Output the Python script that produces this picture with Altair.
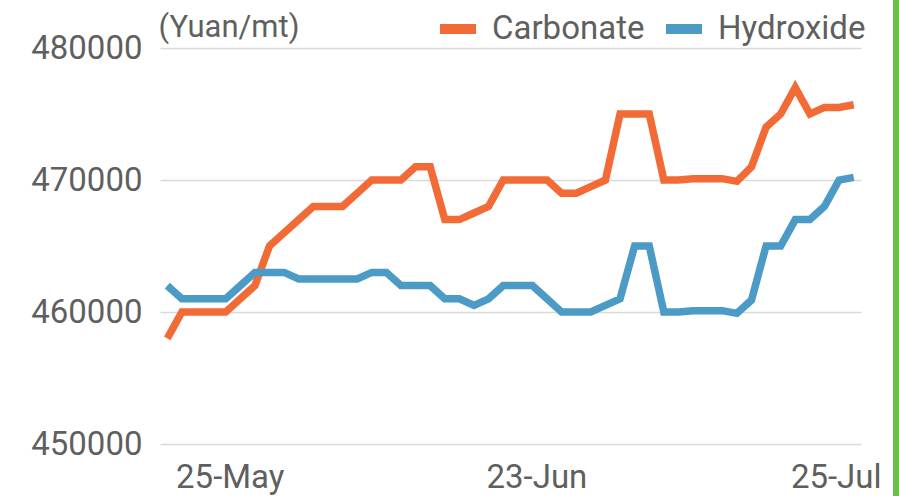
import altair as alt
import pandas as pd

dates = ["19-May", "20-May", "23-May", "24-May", "25-May", "26-May", "27-May", "30-May", "31-May",
         "1-Jun", "2-Jun", "3-Jun", "6-Jun", "7-Jun", "8-Jun", "9-Jun", "10-Jun", "13-Jun", "14-Jun",
         "15-Jun", "16-Jun", "17-Jun", "20-Jun", "21-Jun", "22-Jun", "23-Jun", "24-Jun", "27-Jun",
         "28-Jun", "29-Jun", "30-Jun", "1-Jul", "4-Jul", "5-Jul", "6-Jul", "7-Jul", "8-Jul", "11-Jul",
         "12-Jul", "13-Jul", "14-Jul", "15-Jul", "18-Jul", "19-Jul", "20-Jul", "21-Jul", "22-Jul", "25-Jul"]

carbonate = [458000, 460000, 460000, 460000, 460000, 461000, 462000, 465000, 466000,
             467000, 468000, 468000, 468000, 469000, 470000, 470000, 470000, 471000, 471000,
             467000, 467000, 467500, 468000, 470000, 470000, 470000, 470000, 469000,
             469000, 469500, 470000, 475000, 475000, 475000, 470000, 470000, 470100, 470100,
             470100, 469900, 471000, 474000, 475000, 477000, 475000, 475500, 475500, 475700]

hydroxide = [462000, 461000, 461000, 461000, 461000, 462000, 463000, 463000, 463000,
             462500, 462500, 462500, 462500, 462500, 463000, 463000, 462000, 462000, 462000,
             461000, 461000, 460500, 461000, 462000, 462000, 462000, 461000, 460000,
             460000, 460000, 460500, 461000, 465000, 465000, 460000, 460000, 460100, 460100,
             460100, 459900, 460900, 465000, 465000, 467000, 467000, 468000, 470000, 470200]

series_names = ["Carbonate", "Hydroxide"]
series_colors = ["#f26b36", "#4b9bc6"]
y_ticks = [450000, 460000, 470000, 480000]
x_labels = ["25-May", "23-Jun", "25-Jul"]

rows = []
for i, d in enumerate(dates):
    rows.append({"date": d, "series": "Carbonate", "value": carbonate[i], "order": i})
    rows.append({"date": d, "series": "Hydroxide", "value": hydroxide[i], "order": i})
df = pd.DataFrame(rows)

FONT = "Roboto"
GRAY = "#5f5f5f"

lines = alt.Chart(df).mark_line(strokeWidth=7.5, strokeJoin="miter").encode(
    x=alt.X("date:O", sort=dates,
            scale=alt.Scale(type="point", padding=0.5),
            axis=alt.Axis(values=x_labels, labelAngle=0, ticks=False, domain=False, grid=False,
                          title=None, labelFontSize=33, labelFont=FONT, labelColor=GRAY,
                          labelPadding=17,
                          labelOffset={"condition": {"test": "datum.value === '25-Jul'", "value": -18},
                                       "value": 4})),
    y=alt.Y("value:Q",
            scale=alt.Scale(domain=[450000, 480000], nice=False, zero=False),
            axis=alt.Axis(values=y_ticks, format="d", ticks=False, tickSize=0, domain=False,
                          grid=True, gridColor="#d9d9d9", gridWidth=1.5,
                          labelFontSize=33, labelFont=FONT, labelColor=GRAY, labelPadding=18,
                          title="(Yuan/mt)", titleAngle=0, titleAlign="left",
                          titleBaseline="alphabetic", titleX=-2, titleY=-12,
                          titleFontSize=31, titleFont=FONT, titleColor=GRAY,
                          titleFontWeight="normal")),
    color=alt.Color("series:N",
                    scale=alt.Scale(domain=series_names, range=series_colors),
                    legend=alt.Legend(orient="none", legendX=275, legendY=-42,
                                      direction="horizontal", title=None,
                                      symbolType="stroke", symbolSize=1296,
                                      symbolStrokeWidth=10,
                                      labelFontSize=33, labelFont=FONT, labelColor=GRAY,
                                      labelOffset=11, columnPadding=1, labelLimit=200)),
    order="order:Q",
)

edge = alt.Chart(pd.DataFrame({"a": [0]})).mark_rule(color="#6abf4b", strokeWidth=6).encode(
    x=alt.value(736), y=alt.value(-48), y2=alt.value(448)
)

chart = alt.layer(lines, edge).properties(
    width=701, height=396,
    autosize=alt.AutoSizeParams(type="none"),
    padding={"left": 160, "top": 48, "right": 38, "bottom": 52},
    background="white",
).configure_view(stroke=None)

chart.save("out.html", embed_options={"renderer": "svg", "actions": False})
